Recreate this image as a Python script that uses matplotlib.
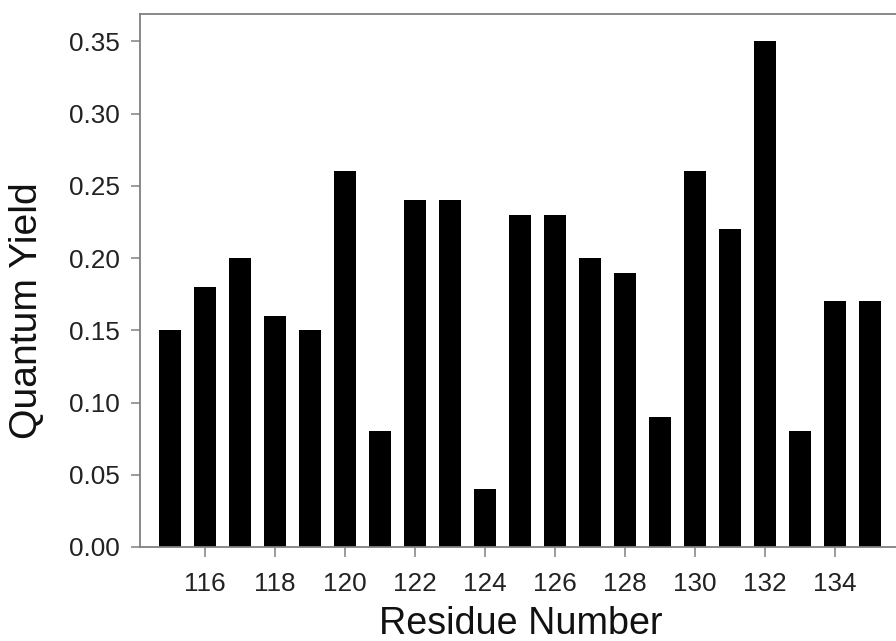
import numpy as np
import matplotlib
matplotlib.use('Agg')
import matplotlib.pyplot as plt

plt.rcParams['font.family'] = ['Liberation Sans', 'DejaVu Sans']

residues = np.arange(115, 136)
qyield = [0.15, 0.18, 0.20, 0.16, 0.15, 0.26, 0.08, 0.24, 0.24, 0.04,
          0.23, 0.23, 0.20, 0.19, 0.09, 0.26, 0.22, 0.35, 0.08, 0.17, 0.17]
xticks = np.arange(116, 135, 2)
yticks = np.arange(0, 0.36, 0.05)

W, H = 896, 641
fig = plt.figure(figsize=(W / 100, H / 100), dpi=100)
ax = fig.add_axes([140 / W, 1 - 547 / H, (W - 140) / W, (547 - 14) / H])

ax.bar(residues, qyield, width=0.63, color='black', edgecolor='none')

ax.set_xlim(114.14, 135.74)
ax.set_ylim(0, 0.369)
ax.set_xticks(xticks)
ax.set_yticks(yticks)
ax.set_yticklabels(['%.2f' % v for v in yticks])

spine_col = '#808080'
for s in ['left', 'bottom', 'top']:
    ax.spines[s].set_color(spine_col)
    ax.spines[s].set_linewidth(1.3)
ax.spines['right'].set_visible(False)

ax.tick_params(axis='y', direction='out', length=6.5, width=1.1, color=spine_col,
               labelsize=18.8, pad=8, labelcolor='#222222')
ax.tick_params(axis='x', direction='out', length=7, width=1.1, color=spine_col,
               labelsize=18.8, pad=11, labelcolor='#222222')

ax.text(0.504, -0.163, 'Residue Number', transform=ax.transAxes,
        ha='center', va='baseline', fontsize=27.2, color='#111111')
ax.text(-0.1495, 0.443, 'Quantum Yield', transform=ax.transAxes, rotation=90,
        ha='center', va='center', fontsize=28.2, color='#111111')

fig.savefig('out.png', dpi=100)
